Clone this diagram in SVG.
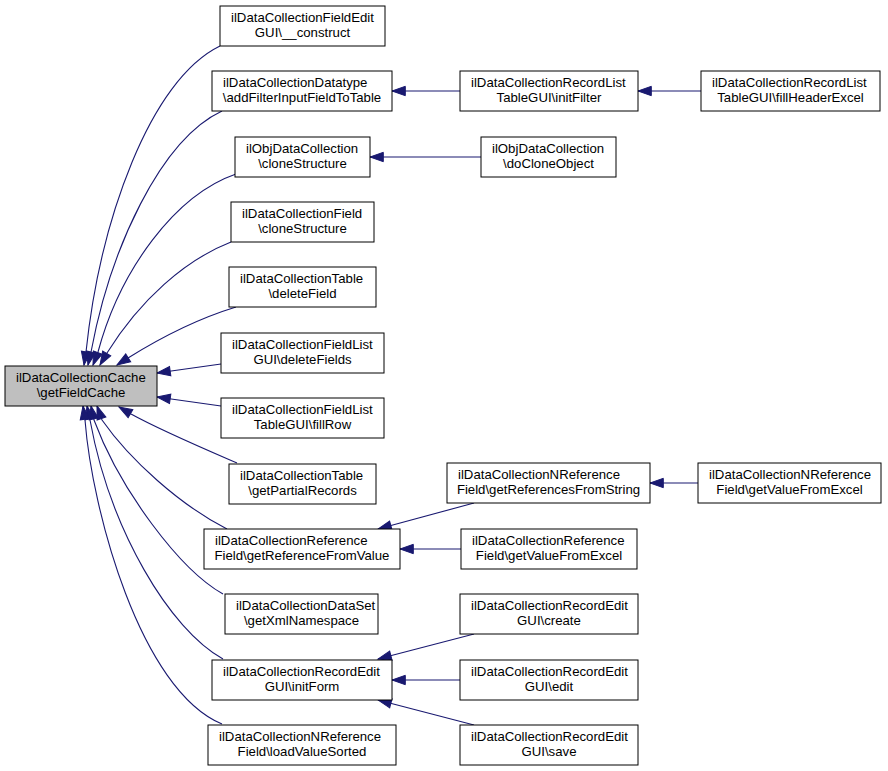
<svg xmlns="http://www.w3.org/2000/svg" width="888" height="771" viewBox="0 0 888 771">
<style>
  .n rect { fill: #ffffff; stroke: #000000; stroke-width: 1; }
  .m rect { fill: #bfbfbf; stroke: #000000; stroke-width: 1; }
  text { font-family: "Liberation Sans", Arial, Helvetica, sans-serif; font-size: 13.2px; fill: #000000; }
  .l1 { text-anchor: start; }
  .l2 { text-anchor: middle; }
  #edges path { fill: none; stroke: #191970; stroke-width: 1.1; marker-end: url(#ah); }
</style>
<defs>
  <marker id="ah" markerUnits="userSpaceOnUse" markerWidth="16" markerHeight="12" refX="13.3" refY="5" orient="auto" overflow="visible">
    <path d="M0,0.33 L13.3,5 L0,9.67 Z" fill="#191970" stroke="#191970" stroke-width="1"/>
  </marker>
</defs>
<rect width="888" height="771" fill="#ffffff"/>
<g id="edges">
  <path d="M220,46 C150,80 100,220 86,352 L84,365"/>
  <path d="M222,111 C160,140 110,250 91,352 L88,365"/>
  <path d="M236,174 C175,195 120,270 98,352 L93,365"/>
  <path d="M231,242 C185,260 140,300 107,353 L100,365"/>
  <path d="M236,307 C200,318 160,338 128,358 L117,365"/>
  <path d="M221,364 L157,373"/>
  <path d="M221,406 L157,397"/>
  <path d="M237,463 C200,447 160,430 131,414 L119,407"/>
  <path d="M227,529 C180,505 130,460 102,420 L97,406"/>
  <path d="M223,594 C180,570 120,490 94,420 L91,406"/>
  <path d="M223,659 C170,630 110,530 90,420 L87,406"/>
  <path d="M222,724 C140,690 92,510 85,420 L83,406"/>
  <path d="M460,91 L392,91"/>
  <path d="M701,91 L638,91"/>
  <path d="M481,157 L370,157"/>
  <path d="M474,503 L378,529"/>
  <path d="M698,483 L650,483"/>
  <path d="M461,549 L400,549"/>
  <path d="M474,634 L378,659"/>
  <path d="M460,680 L392,680"/>
  <path d="M474,725 L378,700"/>
</g>
<g id="main" class="m">
  <rect x="5" y="366" width="152" height="40"/>
  <text class="l1" x="16" y="382">ilDataCollectionCache</text>
  <text class="l2" x="81" y="397">\getFieldCache</text>
</g>
<g id="n1" class="n">
  <rect x="220" y="6" width="165" height="40"/>
  <text class="l1" x="231" y="22">ilDataCollectionFieldEdit</text>
  <text class="l2" x="302.5" y="37">GUI\__construct</text>
</g>
<g id="n2" class="n">
  <rect x="212" y="71" width="180" height="40"/>
  <text class="l1" x="223" y="87">ilDataCollectionDatatype</text>
  <text class="l2" x="302" y="102">\addFilterInputFieldToTable</text>
</g>
<g id="n3" class="n">
  <rect x="235" y="137" width="135" height="40"/>
  <text class="l1" x="246" y="153">ilObjDataCollection</text>
  <text class="l2" x="302.5" y="168">\cloneStructure</text>
</g>
<g id="n4" class="n">
  <rect x="231" y="202" width="143" height="40"/>
  <text class="l1" x="242" y="218">ilDataCollectionField</text>
  <text class="l2" x="302.5" y="233">\cloneStructure</text>
</g>
<g id="n5" class="n">
  <rect x="229" y="267" width="147" height="40"/>
  <text class="l1" x="240" y="283">ilDataCollectionTable</text>
  <text class="l2" x="302.5" y="298">\deleteField</text>
</g>
<g id="n6" class="n">
  <rect x="221" y="333" width="163" height="40"/>
  <text class="l1" x="232" y="349">ilDataCollectionFieldList</text>
  <text class="l2" x="302.5" y="364">GUI\deleteFields</text>
</g>
<g id="n7" class="n">
  <rect x="221" y="398" width="163" height="40"/>
  <text class="l1" x="232" y="414">ilDataCollectionFieldList</text>
  <text class="l2" x="302.5" y="429">TableGUI\fillRow</text>
</g>
<g id="n8" class="n">
  <rect x="229" y="464" width="147" height="40"/>
  <text class="l1" x="240" y="480">ilDataCollectionTable</text>
  <text class="l2" x="302.5" y="495">\getPartialRecords</text>
</g>
<g id="n9" class="n">
  <rect x="204" y="529" width="196" height="40"/>
  <text class="l1" x="215" y="545">ilDataCollectionReference</text>
  <text class="l2" x="302" y="560">Field\getReferenceFromValue</text>
</g>
<g id="n10" class="n">
  <rect x="225" y="594" width="153" height="40"/>
  <text class="l1" x="236" y="610">ilDataCollectionDataSet</text>
  <text class="l2" x="301.5" y="625">\getXmlNamespace</text>
</g>
<g id="n11" class="n">
  <rect x="212" y="660" width="180" height="40"/>
  <text class="l1" x="223" y="676">ilDataCollectionRecordEdit</text>
  <text class="l2" x="302" y="691">GUI\initForm</text>
</g>
<g id="n12" class="n">
  <rect x="208" y="725" width="188" height="40"/>
  <text class="l1" x="219" y="741">ilDataCollectionNReference</text>
  <text class="l2" x="302" y="756">Field\loadValueSorted</text>
</g>
<g id="c3a" class="n">
  <rect x="460" y="71" width="178" height="40"/>
  <text class="l1" x="471" y="87">ilDataCollectionRecordList</text>
  <text class="l2" x="549" y="102">TableGUI\initFilter</text>
</g>
<g id="c3b" class="n">
  <rect x="481" y="137" width="135" height="40"/>
  <text class="l1" x="492" y="153">ilObjDataCollection</text>
  <text class="l2" x="548.5" y="168">\doCloneObject</text>
</g>
<g id="c3c" class="n">
  <rect x="447" y="463" width="203" height="40"/>
  <text class="l1" x="458" y="479">ilDataCollectionNReference</text>
  <text class="l2" x="548.5" y="494">Field\getReferencesFromString</text>
</g>
<g id="c3d" class="n">
  <rect x="461" y="529" width="176" height="40"/>
  <text class="l1" x="472" y="545">ilDataCollectionReference</text>
  <text class="l2" x="549" y="560">Field\getValueFromExcel</text>
</g>
<g id="c3e" class="n">
  <rect x="460" y="594" width="178" height="40"/>
  <text class="l1" x="471" y="610">ilDataCollectionRecordEdit</text>
  <text class="l2" x="549" y="625">GUI\create</text>
</g>
<g id="c3f" class="n">
  <rect x="460" y="660" width="178" height="40"/>
  <text class="l1" x="471" y="676">ilDataCollectionRecordEdit</text>
  <text class="l2" x="549" y="691">GUI\edit</text>
</g>
<g id="c3g" class="n">
  <rect x="460" y="725" width="178" height="40"/>
  <text class="l1" x="471" y="741">ilDataCollectionRecordEdit</text>
  <text class="l2" x="549" y="756">GUI\save</text>
</g>
<g id="c4a" class="n">
  <rect x="701" y="71" width="179" height="40"/>
  <text class="l1" x="712" y="87">ilDataCollectionRecordList</text>
  <text class="l2" x="790.5" y="102">TableGUI\fillHeaderExcel</text>
</g>
<g id="c4b" class="n">
  <rect x="698" y="463" width="183" height="40"/>
  <text class="l1" x="709" y="479">ilDataCollectionNReference</text>
  <text class="l2" x="789.5" y="494">Field\getValueFromExcel</text>
</g>
</svg>
